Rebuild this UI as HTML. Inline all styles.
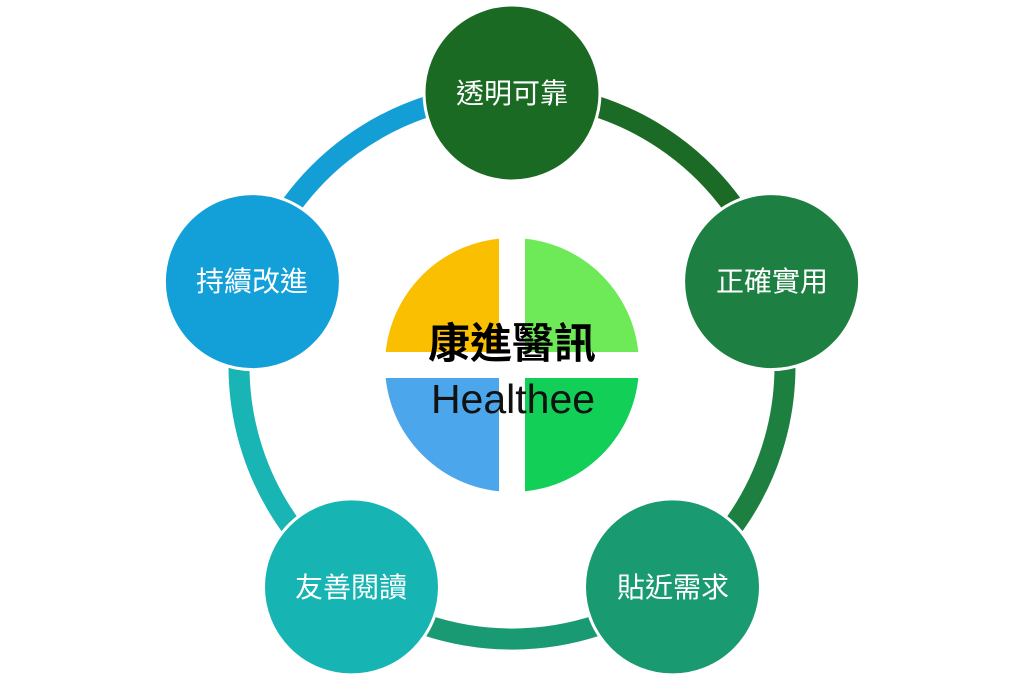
<!DOCTYPE html>
<html><head><meta charset="utf-8"><style>
html,body{margin:0;padding:0;background:#fff;}
svg{display:block}
text{font-family:"Liberation Sans","Noto Sans CJK TC",sans-serif;}
</style></head><body>
<svg width="1024" height="683" viewBox="0 0 1024 683" xmlns="http://www.w3.org/2000/svg">
<defs>
<clipPath id="cc"><circle cx="512" cy="365" r="127"/></clipPath>
</defs>
<g fill="none" stroke-width="21">
<path d="M512 93 A273 273 0 0 1 771.6 281.6" stroke="#1b6a25"/>
<path d="M771.6 281.6 A273 273 0 0 1 672.5 586.9" stroke="#1d7f40"/>
<path d="M672.5 586.9 A273 273 0 0 1 351.5 586.9" stroke="#1a9a73"/>
<path d="M351.5 586.9 A273 273 0 0 1 252.4 281.6" stroke="#18b5b4"/>
<path d="M252.4 281.6 A273 273 0 0 1 512 93" stroke="#139fd6"/>
</g>
<g stroke="#fff" stroke-width="3">
<circle cx="512" cy="93" r="88" fill="#1b6a24"/>
<circle cx="771.6" cy="281.6" r="88" fill="#1e7f42"/>
<circle cx="672.5" cy="586.9" r="88" fill="#1a9a70"/>
<circle cx="351.5" cy="586.9" r="88" fill="#16b5b3"/>
<circle cx="252.4" cy="281.6" r="88" fill="#139fd8"/>
</g>
<g fill="#fff" font-size="28" text-anchor="middle">
<text x="512" y="103">透明可靠</text>
<text x="772" y="291">正確實用</text>
<text x="673" y="597">貼近需求</text>
<text x="351" y="597">友善閱讀</text>
<text x="252" y="291">持續改進</text>
</g>
<g clip-path="url(#cc)">
<rect x="380" y="230" width="119" height="122" fill="#f9bf00"/>
<rect x="525" y="230" width="130" height="122" fill="#6ee957"/>
<rect x="380" y="378" width="119" height="130" fill="#4ca6eb"/>
<rect x="525" y="378" width="130" height="130" fill="#12cf58"/>
</g>
<text x="512" y="358" font-size="42" font-weight="bold" text-anchor="middle" fill="#000">康進醫訊</text>
<text x="513" y="413" font-size="41" text-anchor="middle" fill="#111">Healthee</text>
</svg>
</body></html>
